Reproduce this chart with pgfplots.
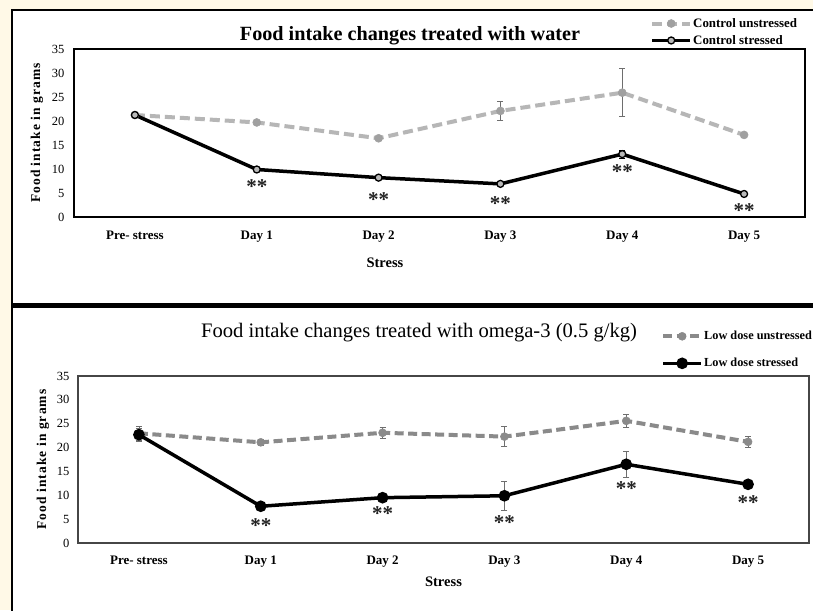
\documentclass[border=0pt]{standalone}
\usepackage{fontspec}
\setmainfont{Liberation Serif}
\usepackage{pgfplots}
\pgfplotsset{compat=1.18}
\definecolor{cream}{RGB}{255,249,231}
\definecolor{lightg}{RGB}{182,182,182}
\definecolor{markg}{RGB}{160,160,160}
\definecolor{midg}{RGB}{138,138,138}
\definecolor{errg}{RGB}{110,110,110}
\definecolor{stargray}{RGB}{35,35,35}
\tikzset{starnode/.style={font=\bfseries\fontsize{21}{24}\selectfont, text=stargray, yshift=-3.5pt, inner sep=0pt}}
\pgfplotsset{
  panel/.style={
    scale only axis, width=731pt,
    xmin=-0.5, xmax=5.5, ymin=0, ymax=35,
    xtick={0,1,2,3,4,5},
    xticklabels={Pre- stress,Day 1,Day 2,Day 3,Day 4,Day 5},
    ytick={0,5,...,35},
    major tick length=0pt,
    /pgf/number format/assume math mode=true,
    tick label style={font=\fontsize{12.5}{14}\selectfont},
    xticklabel style={font=\bfseries\fontsize{13}{15}\selectfont, anchor=base},
    ylabel style={font=\bfseries\fontsize{13.5}{15}\selectfont, anchor=center},
    xlabel style={font=\bfseries\fontsize{14.5}{16}\selectfont, anchor=center},
    legend cell align=left,
    legend image code/.code={\draw[##1, mark repeat=2, mark phase=2] plot coordinates {(0pt,0pt) (19pt,0pt) (38pt,0pt)};},
    clip=false,
  },
}
\begin{document}
\begin{tikzpicture}[x=1pt,y=1pt]
\useasboundingbox (0,0) rectangle (813,-610);
\clip (0,0) rectangle (813,-610);
\fill[cream] (0,0) rectangle (813,-610);
\fill[white] (12,-10) rectangle (820,-620);
\draw[black,line width=1.8pt] (12,-620) -- (12,-10) -- (820,-10);
\draw[black,line width=5pt] (12,-305) -- (820,-305);

\node[font=\bfseries\fontsize{20.2}{24}\selectfont] at (410,-36) {Food intake changes treated with water};
\node[font=\fontsize{20.6}{24}\selectfont] at (419,-333) {Food intake changes treated with omega-3 (0.5 g/kg)};

% ---------- top panel ----------
\begin{axis}[panel, at={(74pt,-217pt)}, anchor=south west, height=168pt,
  axis line style={black, line width=2.2pt},
  yticklabel style={anchor=east, xshift=-6pt},
  xticklabel style={yshift=-22.5pt},
  ylabel={\addfontfeature{LetterSpace=8}Food intake in grams},
  ylabel style={at={(axis description cs:-0.0506,0.5)}},
  xlabel={Stress},
  xlabel style={at={(axis description cs:0.4254,-0.274)}},
  legend style={at={(0.788,1.19)}, anchor=north west, draw=none, fill=none,
    font=\bfseries\fontsize{12.9}{14}\selectfont, row sep=4.5pt, inner sep=0pt,
    nodes={inner sep=1pt, text depth=0.15em}},
]
\addplot[lightg, line width=4pt, dash pattern=on 10pt off 5pt,
  mark=*, mark size=4pt, mark options={solid, fill=markg, draw=markg, line width=0.5pt},
  error bars/.cd, y dir=both, y explicit,
  error bar style={errg, line width=0.8pt, solid},
  error mark options={rotate=90, mark size=3pt, errg, line width=0.8pt}]
coordinates {
 (0,21.25) +- (0,0.3)
 (1,19.7)  +- (0,0.4)
 (2,16.4)  +- (0,0.4)
 (3,22.1)  +- (0,2.0)
 (4,25.9)  +- (0,5.0)
 (5,17.1)  +- (0,0.5)
};
\addlegendentry{Control unstressed}
\addplot[black, line width=3.5pt,
  mark=*, mark size=3.5pt, mark options={solid, fill=gray!55, draw=black, line width=1.3pt},
  error bars/.cd, y dir=both, y explicit,
  error bar style={black, line width=0.8pt},
  error mark options={rotate=90, mark size=3pt, black, line width=0.8pt}]
coordinates {
 (0,21.25) +- (0,0.3)
 (1,9.9)   +- (0,0.3)
 (2,8.2)   +- (0,0.3)
 (3,6.9)   +- (0,0.3)
 (4,13.1)  +- (0,0.8)
 (5,4.8)   +- (0,0.4)
};
\addlegendentry{Control stressed}
\node[starnode] at (axis cs:1,7.1) {**};
\node[starnode] at (axis cs:2,4.4) {**};
\node[starnode] at (axis cs:3,3.5) {**};
\node[starnode] at (axis cs:4,10.2) {**};
\node[starnode] at (axis cs:5,2.1) {**};
\end{axis}

% ---------- bottom panel ----------
\begin{axis}[panel, at={(78pt,-543pt)}, anchor=south west, height=167pt,
  axis line style={gray!55!black, line width=2.2pt},
  yticklabel style={anchor=east, xshift=-5pt},
  xticklabel style={yshift=-21.5pt},
  ylabel={\addfontfeature{LetterSpace=8}Food intake in grams},
  ylabel style={at={(axis description cs:-0.0479,0.5)}},
  xlabel={Stress},
  xlabel style={at={(axis description cs:0.5,-0.2335)}},
  legend style={at={(0.7975,1.275)}, anchor=north west, draw=none, fill=none,
    font=\bfseries\fontsize{12.3}{14}\selectfont, row sep=15pt, inner sep=0pt,
    nodes={inner sep=1pt, text depth=0.15em}},
]
\addplot[midg, line width=4pt, dash pattern=on 9pt off 4.5pt,
  mark=*, mark size=4pt, mark options={solid, fill=midg, draw=midg, line width=0.5pt},
  error bars/.cd, y dir=both, y explicit,
  error bar style={errg, line width=0.8pt, solid},
  error mark options={rotate=90, mark size=3pt, errg, line width=0.8pt}]
coordinates {
 (0,23.0) +- (0,1.4)
 (1,21.1) +- (0,0.6)
 (2,23.1) +- (0,1.1)
 (3,22.3) +- (0,2.1)
 (4,25.6) +- (0,1.4)
 (5,21.2) +- (0,1.1)
};
\addlegendentry{Low dose unstressed}
\addplot[black, line width=3.5pt,
  mark=*, mark size=4pt, mark options={solid, fill=black, draw=black},
  error bars/.cd, y dir=both, y explicit,
  error bar style={errg, line width=0.8pt},
  error mark options={rotate=90, mark size=3pt, errg, line width=0.8pt}]
coordinates {
 (0,22.7) +- (0,1.4)
 (1,7.7)  +- (0,0.6)
 (2,9.5)  +- (0,0.8)
 (3,9.9)  +- (0,3.1)
 (4,16.5) +- (0,2.8)
 (5,12.3) +- (0,0.4)
};
\addlegendentry{Low dose stressed}
\node[starnode] at (axis cs:1,4.3) {**};
\node[starnode] at (axis cs:2,6.9) {**};
\node[starnode] at (axis cs:3,5.1) {**};
\node[starnode] at (axis cs:4,12.1) {**};
\node[starnode] at (axis cs:5,9.3) {**};
\end{axis}
\end{tikzpicture}
\end{document}
